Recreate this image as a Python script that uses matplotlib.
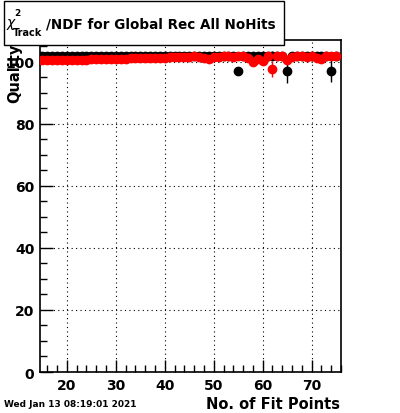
import numpy as np
import matplotlib
matplotlib.use("Agg")
import matplotlib.pyplot as plt
from matplotlib.patches import Rectangle
from matplotlib.ticker import MultipleLocator

fit_points = list(range(15, 76))

black_vals = [101.9] * 61
black_errs = [0.3] * 61
for xv, yv, ev in [(55, 97.1, 0.5), (65, 97.1, 4.0), (74, 97.1, 3.5)]:
    black_vals[xv - 15] = yv
    black_errs[xv - 15] = ev
black_errs[62 - 15] = 1.5

red_vals = [100.6, 100.5, 100.6, 100.6, 100.7, 100.6, 100.7, 100.7, 100.7, 100.7,
            100.8, 100.8, 100.8, 100.8, 100.9, 100.9, 100.9, 101.0, 101.1, 101.2,
            101.2, 101.2, 101.3, 101.3, 101.3, 101.3, 101.4, 101.4, 101.4, 101.5,
            101.6, 101.8, 101.4, 101.2, 101.0, 101.4, 101.6, 101.7, 101.7, 101.6,
            101.8, 101.7, 101.2, 99.8, 101.0, 100.2, 101.8, 97.6, 101.9, 101.8,
            100.6, 101.4, 101.8, 101.9, 101.6, 101.7, 101.2, 100.8, 101.9, 101.9,
            101.8]
red_errs = [0.3] * 30 + [0.5] * 13 + [1.0, 0.8, 1.2, 0.6, 2.5, 0.5, 0.5, 0.8,
                                     0.5, 0.5, 0.5, 0.5, 0.5, 0.6, 0.7, 0.5, 0.5, 0.5]

plt.rcParams['font.family'] = ['DejaVu Sans']
plt.rcParams['mathtext.fontset'] = 'dejavusans'

fig = plt.figure(figsize=(4.0, 4.14), dpi=100)
ax = fig.add_axes([0.1, 0.099, 0.7525, 0.802])

ax.errorbar(fit_points, black_vals, yerr=black_errs, fmt='o', color='black',
            markersize=6, elinewidth=1, capsize=0, zorder=3)
ax.errorbar(fit_points, red_vals, yerr=red_errs, fmt='o', color='red',
            markersize=6, elinewidth=1, capsize=0, zorder=4)

ax.set_xlim(14.5, 76)
ax.set_ylim(0, 107)
ax.xaxis.set_major_locator(MultipleLocator(10))
ax.xaxis.set_minor_locator(MultipleLocator(2))
ax.yaxis.set_major_locator(MultipleLocator(20))
ax.yaxis.set_minor_locator(MultipleLocator(5))
ax.tick_params(which='both', direction='in', top=False, right=False, width=1)
ax.tick_params(which='major', length=9, labelsize=10, pad=4)
ax.tick_params(which='minor', length=5)
for lab in ax.get_xticklabels() + ax.get_yticklabels():
    lab.set_fontweight('bold')
ax.grid(True, which='major', color='black', linestyle=(0, (1, 3)), linewidth=0.8)
for s in ax.spines.values():
    s.set_linewidth(1.2)

fig.text(340 / 400, 1 - 405 / 414, 'No. of Fit Points', ha='right', va='center',
         fontsize=10.5, fontweight='bold')
fig.text(4 / 400, 1 - 405 / 414, 'Wed Jan 13 08:19:01 2021', ha='left', va='center',
         fontsize=6.5, fontweight='bold')
fig.text(15 / 400, 1 - 44 / 414, 'Quality', rotation=90, ha='center', va='top',
         fontsize=10.5, fontweight='bold')

rect = Rectangle((4 / 400, 1 - 46 / 414), 280 / 400, 44 / 414, transform=fig.transFigure,
                 facecolor='white', edgecolor='black', linewidth=1, zorder=10)
fig.patches.append(rect)


def ft(px, py, s, **kw):
    fig.text(px / 400, 1 - py / 414, s, zorder=11, **kw)


ft(6, 25, r'$\chi$', ha='left', va='center', fontsize=10)
ft(14, 14, '2', ha='left', va='center', fontsize=6.5, fontweight='bold')
ft(13, 33, 'Track', ha='left', va='center', fontsize=7, fontweight='bold')
ft(46, 24, '/NDF for Global Rec All NoHits', ha='left', va='center',
   fontsize=9.75, fontweight='bold')

fig.savefig('out.png', dpi=100)
